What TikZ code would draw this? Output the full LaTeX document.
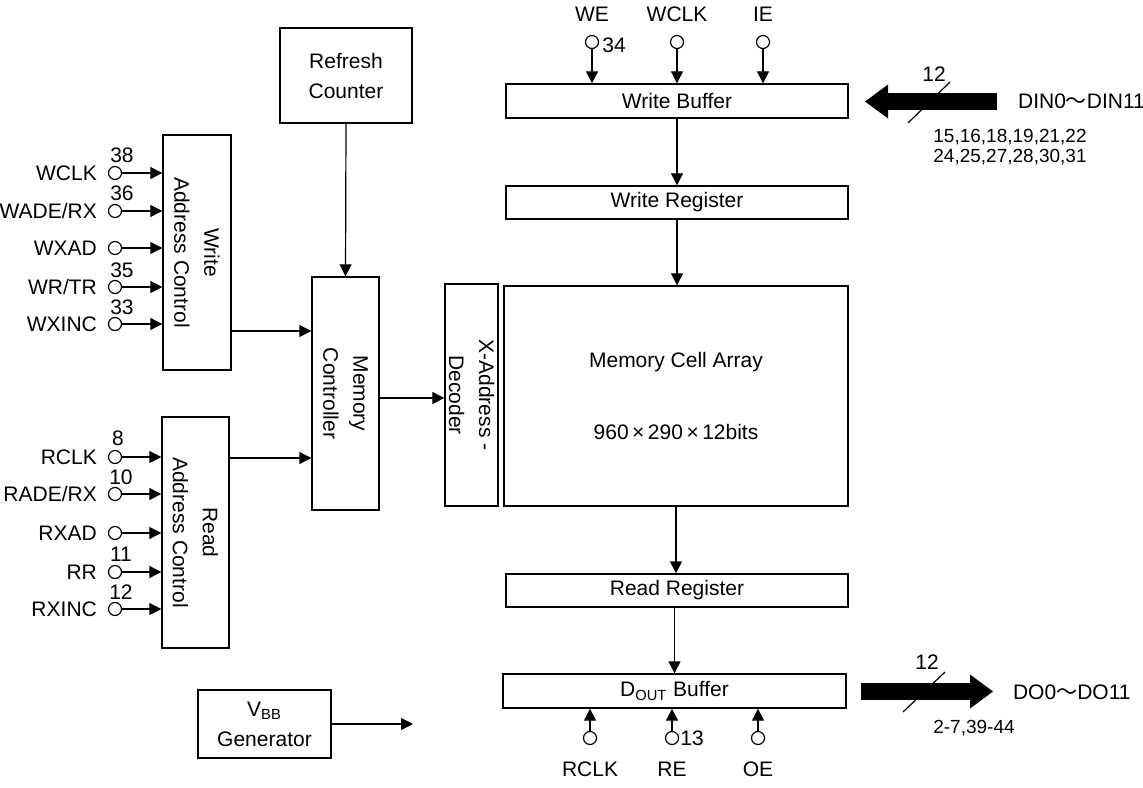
\documentclass[tikz,border=0pt]{standalone}
\usepackage{fontspec}
\setmainfont{Liberation Sans}
\newfontfamily\cjk{Noto Sans CJK JP}
\usetikzlibrary{arrows.meta, positioning}

\begin{document}
\begin{tikzpicture}[
    x=0.5pt, y=-0.5pt,
    font=\fontsize{10.5}{15}\selectfont,
    block/.style={draw, line width=0.7pt, inner sep=0pt, align=center},
    pinc/.style={circle, draw, line width=0.6pt, minimum size=6.5pt, inner sep=0pt},
    sig/.style={line width=0.6pt, -{Triangle[length=6pt, width=6pt]}},
    bus/.style={line width=8.5pt, -{Triangle[length=11.5pt, width=17pt, line width=0pt]}},
    num/.style={inner sep=0pt},
    small/.style={font=\fontsize{9.5}{10}\selectfont, align=center}
]
    \useasboundingbox (0,0) rectangle (1143,787);

    % main column
    \node[block, minimum width=171pt, minimum height=17pt]   (wbuf)  at (677,101)   {Write Buffer};
    \node[block, minimum width=171pt, minimum height=16.5pt] (wreg)  at (677,202.5) {Write Register};
    \node[block, minimum width=172pt, minimum height=110pt]  (array) at (676,396)   {Memory Cell Array\\[21pt]960\,×\,290\,×\,12bits};
    \node[block, minimum width=171pt, minimum height=16.5pt] (rreg)  at (677,590.5) {Read Register};
    \node[block, minimum width=171.5pt, minimum height=17pt] (dout)  at (674.5,691) {D\textsubscript{OUT} Buffer};

    % control blocks
    \node[block, rotate=-90, minimum width=117.5pt, minimum height=34pt]   (wac)   at (197,252.5)   {Write\\Address Control};
    \node[block, rotate=-90, minimum width=115.5pt, minimum height=33.5pt] (rac)   at (195.5,532.5) {Read\\Address Control};
    \node[block, rotate=-90, minimum width=116.5pt, minimum height=33.5pt] (mctrl) at (345.5,393.5) {Memory\\Controller};
    \node[block, rotate=-90, minimum width=111pt, minimum height=26.5pt]   (xdec)  at (471.5,395)   {X-Address -\\Decoder};
    \node[block, minimum width=66pt, minimum height=47.5pt]   (refresh) at (346,75.5) {Refresh\\Counter};
    \node[block, minimum width=66.5pt, minimum height=34pt]   (vbb)     at (264.5,724) {V\textsubscript{BB}\\Generator};

    \coordinate (wy) at (0,331);
    \coordinate (ry) at (0,458);
    \coordinate (dy) at (0,398);
    \coordinate (vbbend) at (413,724);

    \draw[sig] (wbuf.south) -- (wreg.north);
    \draw[sig] (wreg.south) -- (wreg.south |- array.north);
    \draw[sig] (array.south) -- (array.south |- rreg.north);
    \draw[sig] (rreg.south -| dout.north) -- (dout.north);
    \draw[sig] (refresh.south) -- (mctrl.west);
    \draw[sig] (wac.north |- wy) -- (mctrl.south |- wy);
    \draw[sig] (rac.north |- ry) -- (mctrl.south |- ry);
    \draw[sig] (mctrl.north |- dy) -- (xdec.south |- dy);
    \draw[sig] (vbb.east) -- (vbbend);

    % write address pins
    \node[pinc] (pwclk) at (115,173) {};
    \node[pinc] (pwade) at (115,211) {};
    \node[pinc] (pwxad) at (115,248) {};
    \node[pinc] (pwrtr) at (115,287) {};
    \node[pinc] (pwinc) at (115,324) {};
    \node[left=2pt of pwclk] {WCLK};
    \node[left=2pt of pwade] {WADE/RX};
    \node[left=2pt of pwxad] {WXAD};
    \node[left=2pt of pwrtr] {WR/TR};
    \node[left=2pt of pwinc] {WXINC};
    \node[num] at (122,155) {38};
    \node[num] at (122,193) {36};
    \node[num] at (122,270) {35};
    \node[num] at (122,307) {33};
    \draw[sig] (pwclk) -- (pwclk -| wac.south);
    \draw[sig] (pwade) -- (pwade -| wac.south);
    \draw[sig] (pwxad) -- (pwxad -| wac.south);
    \draw[sig] (pwrtr) -- (pwrtr -| wac.south);
    \draw[sig] (pwinc) -- (pwinc -| wac.south);

    % read address pins
    \node[pinc] (prclk) at (115,457) {};
    \node[pinc] (prade) at (115,494) {};
    \node[pinc] (prxad) at (115,533) {};
    \node[pinc] (prr)   at (115,572) {};
    \node[pinc] (princ) at (115,609) {};
    \node[left=2pt of prclk] {RCLK};
    \node[left=2pt of prade] {RADE/RX};
    \node[left=2pt of prxad] {RXAD};
    \node[left=2pt of prr]   {RR};
    \node[left=2pt of princ] {RXINC};
    \node[num] at (118,438) {8};
    \node[num] at (121,477) {10};
    \node[num] at (121,554) {11};
    \node[num] at (121,592) {12};
    \draw[sig] (prclk) -- (prclk -| rac.south);
    \draw[sig] (prade) -- (prade -| rac.south);
    \draw[sig] (prxad) -- (prxad -| rac.south);
    \draw[sig] (prr)   -- (prr -| rac.south);
    \draw[sig] (princ) -- (princ -| rac.south);

    % write buffer pins
    \node[pinc] (pwe)   at (592,42) {};
    \node[pinc] (pwclk2) at (677,42) {};
    \node[pinc] (pie)   at (763,42) {};
    \node[above=3pt of pwe]    {WE};
    \node[above=3pt of pwclk2] {WCLK};
    \node[above=3pt of pie]    {IE};
    \node[num] at (614,45) {34};
    \draw[sig] (pwe)    -- (pwe |- wbuf.north);
    \draw[sig] (pwclk2) -- (pwclk2 |- wbuf.north);
    \draw[sig] (pie)    -- (pie |- wbuf.north);

    % output buffer pins
    \node[pinc] (prclk2) at (590,738) {};
    \node[pinc] (pre)    at (672,738) {};
    \node[pinc] (poe)    at (758,738) {};
    \node[below=5pt of prclk2] {RCLK};
    \node[below=5pt of pre]    {RE};
    \node[below=5pt of poe]    {OE};
    \node[num] at (692,738) {13};
    \draw[sig] (prclk2) -- (prclk2 |- dout.south);
    \draw[sig] (pre)    -- (pre |- dout.south);
    \draw[sig] (poe)    -- (poe |- dout.south);

    % data buses
    \node[anchor=west] (din) at (1011,101) {DIN0{\cjk ～}DIN11};
    \node[small] at (1010,147) {15,16,18,19,21,22\\24,25,27,28,30,31};
    \coordinate (dinfrom) at (997,101.5);
    \coordinate (dinto)   at (865,101.5);
    \draw[bus] (dinfrom) -- (dinto);
    \draw[line width=0.6pt] (908,123) -- (950,82);
    \node[num] at (934,74) {12};

    \node[anchor=west] (do) at (1006,692) {DO0{\cjk ～}DO11};
    \node[small] at (974,728) {2-7,39-44};
    \coordinate (dofrom) at (861,691.5);
    \coordinate (doto)   at (993,691.5);
    \draw[bus] (dofrom) -- (doto);
    \draw[line width=0.6pt] (903,712) -- (945,672);
    \node[num] at (927,662) {12};
\end{tikzpicture}
\end{document}
